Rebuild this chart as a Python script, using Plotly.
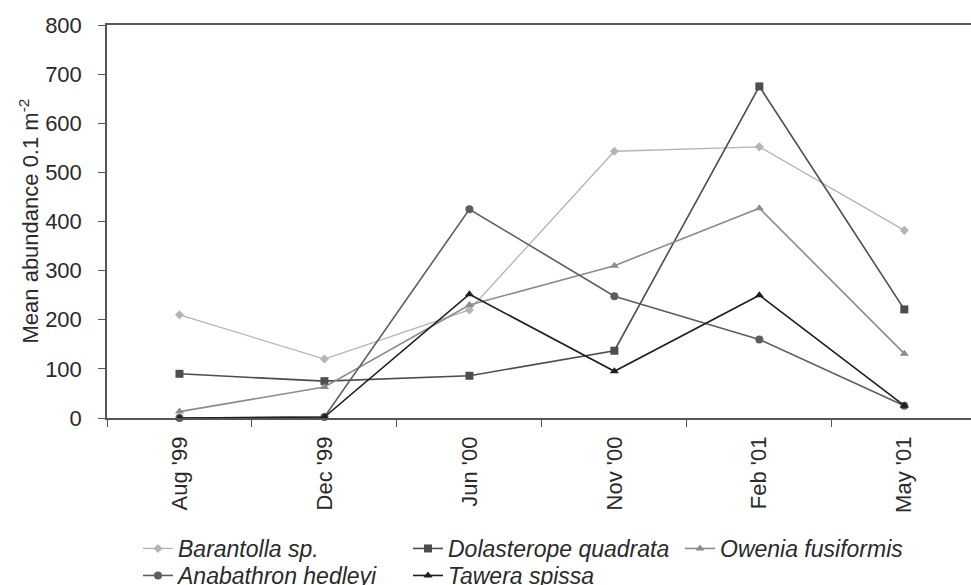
import plotly.graph_objects as go

# Sampling dates
dates = ["Aug '99", "Dec '99", "Jun '00", "Nov '00", "Feb '01", "May '01"]

# Mean abundance per 0.1 m^2 for each taxon
barantolla = [210, 120, 220, 543, 552, 382]
dolasterope = [90, 75, 86, 137, 675, 221]
owenia = [13, 63, 230, 310, 427, 131]
anabathron = [0, 2, 425, 248, 160, 25]
tawera = [0, 2, 252, 95, 250, 25]

y_ticks = [0, 100, 200, 300, 400, 500, 600, 700, 800]

FONT = "Liberation Sans, Arial, sans-serif"
TXT = "#2a2a2a"

# name, values, colour, marker, marker size, line width, legend id, legend left/top (px)
series = [
    ("Barantolla sp.", barantolla, "#b4b4b4", "diamond", 7, 1.3, "legend", 138, 527),
    ("Dolasterope quadrata", dolasterope, "#4d4d4d", "square", 8, 1.6, "legend2", 408, 527),
    ("Owenia fusiformis", owenia, "#8c8c8c", "triangle-up", 8, 1.6, "legend3", 680, 527),
    ("Anabathron hedleyi", anabathron, "#5e5e5e", "circle", 8, 1.6, "legend4", 138, 554),
    ("Tawera spissa", tawera, "#1e1e1e", "triangle-up", 8, 1.6, "legend5", 408, 554),
]

W, H = 971, 585

fig = go.Figure()
legends = {}
for name, vals, color, symbol, msize, lw, leg, lx, ly in series:
    fig.add_trace(go.Scatter(
        x=dates, y=vals, name=f"<i>{name}</i>",
        mode="lines+markers",
        line=dict(color=color, width=lw),
        marker=dict(symbol=symbol, size=msize, color=color),
        cliponaxis=False,
        legend=leg,
    ))
    legends[leg] = dict(
        orientation="v",
        xref="container", yref="container",
        x=lx / W, y=1 - ly / H,
        xanchor="left", yanchor="top",
        font=dict(family=FONT, size=23, color=TXT),
        bgcolor="rgba(0,0,0,0)",
        itemwidth=30,
    )

fig.update_layout(
    width=W, height=H,
    margin=dict(l=107, r=0, t=25, b=167, autoexpand=False),
    paper_bgcolor="white", plot_bgcolor="white",
    font=dict(family=FONT, size=22, color=TXT),
    showlegend=True,
    **legends,
    xaxis=dict(
        type="category",
        categoryorder="array", categoryarray=dates,
        range=[-0.5, 5.46],
        showgrid=False, zeroline=False,
        showline=True, linecolor="#555", linewidth=1.5, mirror=True,
        ticks="outside", tickson="boundaries", ticklen=7, tickcolor="#555",
        tickangle=-90,
        ticklabelstandoff=8,
        automargin=False,
        tickfont=dict(family=FONT, size=22, color=TXT),
    ),
    yaxis=dict(
        range=[0, 800],
        tickvals=y_ticks,
        showgrid=False, zeroline=False,
        showline=True, linecolor="#555", linewidth=1.5,
        ticks="outside", ticklen=7, tickcolor="#555",
        ticklabelstandoff=12,
        automargin=False,
        tickfont=dict(family=FONT, size=22, color=TXT),
    ),
    annotations=[dict(
        text="Mean abundance 0.1 m<sup>-2</sup>",
        xref="paper", yref="paper",
        x=(28 - 107) / 864, y=0.5,
        xanchor="center", yanchor="middle",
        textangle=-90, showarrow=False,
        font=dict(family=FONT, size=22, color=TXT),
    )],
)

fig.write_html("out.html")
